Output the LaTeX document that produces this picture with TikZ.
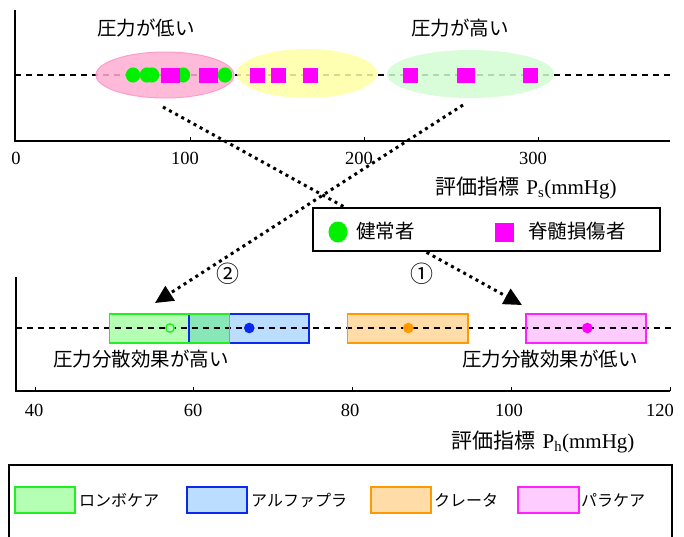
\documentclass[tikz,border=0pt]{standalone}
\usepackage{fontspec}
\setmainfont{Liberation Serif}
\newfontfamily\jp{Noto Sans CJK JP}
\usetikzlibrary{arrows.meta,shapes.geometric}
\definecolor{pinkfill}{HTML}{FFAED3}
\definecolor{pinkedge}{HTML}{FF9CCB}
\definecolor{yelfill}{HTML}{FFFFA4}
\definecolor{lgrfill}{HTML}{D2FBD2}
\definecolor{mkgreen}{HTML}{00F000}
\definecolor{mkmag}{HTML}{FF00FF}
\definecolor{gboxfill}{HTML}{B5FFB5}
\definecolor{gboxedge}{HTML}{22EE22}
\definecolor{ovfill}{HTML}{88E6B8}
\definecolor{bboxfill}{HTML}{BBDDFF}
\definecolor{bboxedge}{HTML}{0A28EE}
\definecolor{oboxfill}{HTML}{FFDCA8}
\definecolor{oboxedge}{HTML}{FF9900}
\definecolor{mboxfill}{HTML}{FFCCFF}
\definecolor{mboxedge}{HTML}{FF22FF}
\begin{document}
\begin{tikzpicture}[x=1pt,y=-1pt,
  jptext/.style={font=\jp\fontsize{19.5}{20}\selectfont, inner sep=0pt},
  legtext/.style={font=\jp\fontsize{16}{16}\selectfont, inner sep=0pt, anchor=west},
  ticklab/.style={font=\fontsize{18.5}{19}\selectfont, inner sep=0pt},
  axtitle/.style={font=\fontsize{21}{21}\selectfont, inner sep=0pt},
  circnum/.style={font=\jp\fontsize{23}{23}\selectfont, inner sep=0pt},
  axisline/.style={line width=2pt},
  tickline/.style={line width=1pt},
  dashline/.style={line width=1.3pt, dash pattern=on 6pt off 5pt},
  dotarrow/.style={line width=3pt, dash pattern=on 3pt off 4pt,
     -{Triangle[length=18pt,width=17pt]}},
  blob/.style={ellipse, inner sep=0pt, draw=none},
  sqmark/.style={fill=mkmag},
  rangebox/.style={line width=1.6pt}]
\useasboundingbox (0,0) rectangle (684,536);

% ---------------- top plot ----------------
\draw[axisline] (15,10) -- (15,141) -- (670,141);
\foreach \x in {190,364,538} \draw[tickline] (\x,141) -- (\x,137);
\node[ticklab] (t0) at (16,158) {0};
\node[ticklab] (t100) at (185,158) {100};
\node[ticklab] (t200) at (359,158) {200};
\node[ticklab] (t300) at (533,158) {300};
\draw[dashline] (15,75) -- (670,75);

\node[blob, fill=pinkfill, fill opacity=0.85, draw=pinkedge, line width=1pt,
  minimum width=138pt, minimum height=46pt] (elow) at (165,75) {};
\node[blob, fill=yelfill, fill opacity=0.85,
  minimum width=140pt, minimum height=49pt] (emid) at (307,73.5) {};
\node[blob, fill=lgrfill, fill opacity=0.85,
  minimum width=167pt, minimum height=48pt] (ehigh) at (470.5,74) {};

% markers
\foreach \x in {133,147,152,183}
  \fill[mkgreen] (\x,75) ellipse [x radius=7.2pt, y radius=7.6pt];
\foreach \x in {168.5,172.5,206.5,210.5,257.5,278.5,310.5,410.5,464.5,467.5,530.5}
  \fill[sqmark] (\x-7.5,67.5) rectangle (\x+7.5,82.5);
\fill[mkgreen] (225,75) ellipse [x radius=7.2pt, y radius=7.6pt];

\node[jptext] (lowlab) at (146,28) {圧力が低い};
\node[jptext] (highlab) at (460,28) {圧力が高い};

\node[axtitle] (pstitle) at (526,188) {{\jp 評価指標}\,\,P\textsubscript{s}(mmHg)};

% arrows
\coordinate (a1s) at (163,107);
\coordinate (a1e) at (522,305);
\coordinate (a2s) at (463,105);
\coordinate (a2e) at (155,303);
\draw[dotarrow] (a1s) -- (a1e);
\draw[dotarrow] (a2s) -- (a2e);
\node[circnum] (n2) at (228,274) {②};
\node[circnum] (n1) at (422,274) {①};

% legend 1
\draw[line width=2pt, fill=white] (313,208) rectangle (660,251);
\fill[mkgreen] (338,232) ellipse [x radius=9.5pt, y radius=10.5pt];
\node[legtext, font=\jp\fontsize{19.5}{20}\selectfont] (lg1) at (356,231) {健常者};
\fill[mkmag] (495,223) rectangle (514,242);
\node[legtext, font=\jp\fontsize{19.5}{20}\selectfont] (lg2) at (528,231) {脊髄損傷者};

% ---------------- bottom plot ----------------
\draw[axisline] (15.5,277) -- (15.5,391) -- (670,391);
\foreach \x in {35,193.75,352.5,511.25,670} \draw[tickline] (\x,391) -- (\x,387);
\node[ticklab] (b40) at (34,410) {40};
\node[ticklab] (b60) at (193,410) {60};
\node[ticklab] (b80) at (350,410) {80};
\node[ticklab] (b100) at (509,410) {100};
\node[ticklab] (b120) at (660,410) {120};

\fill[gboxfill] (109.3,314) rectangle (229.3,342.7);
\fill[bboxfill] (188.7,314) rectangle (308.7,342.7);
\fill[ovfill] (188.7,314) rectangle (229.3,342.7);
\fill[oboxfill] (347.3,314) rectangle (467.7,342.7);
\fill[mboxfill] (525.7,314) rectangle (646,342.7);
\draw[dashline] (15.5,328) -- (672,328);
\draw[rangebox, draw=bboxedge] (188.7,314) rectangle (308.7,342.7);
\draw[rangebox, draw=gboxedge] (109.3,314) rectangle (229.3,342.7);
\draw[rangebox, draw=oboxedge] (347.3,314) rectangle (467.7,342.7);
\draw[rangebox, draw=mboxedge] (525.7,314) rectangle (646,342.7);
\draw[gboxedge, line width=1.4pt, fill=gboxfill] (170,328) circle [radius=4.2pt];
\fill[bboxedge] (249.3,328) circle [radius=5.3pt];
\fill[oboxedge] (408.3,328) circle [radius=5.3pt];
\fill[mkmag] (587.3,328) circle [radius=5.3pt];

\node[jptext] (hiphd) at (141,359) {圧力分散効果が高い};
\node[jptext] (lophd) at (550,359) {圧力分散効果が低い};

\node[axtitle] (phtitle) at (543,442) {{\jp 評価指標}\,\,P\textsubscript{h}(mmHg)};

% legend 2
\draw[line width=2pt] (9,545) -- (9,465) -- (672,465) -- (672,545);
\draw[rangebox, draw=gboxedge, fill=gboxfill] (15,487) rectangle (75,513);
\node[legtext] (l1) at (79,500) {ロンボケア};
\draw[rangebox, draw=bboxedge, fill=bboxfill] (187,487) rectangle (247,513);
\node[legtext] (l2) at (251,500) {アルファプラ};
\draw[rangebox, draw=oboxedge, fill=oboxfill] (371,487) rectangle (431,513);
\node[legtext] (l3) at (434,500) {クレータ};
\draw[rangebox, draw=mboxedge, fill=mboxfill] (518,487) rectangle (579,513);
\node[legtext] (l4) at (581,500) {パラケア};
\end{tikzpicture}
\end{document}
